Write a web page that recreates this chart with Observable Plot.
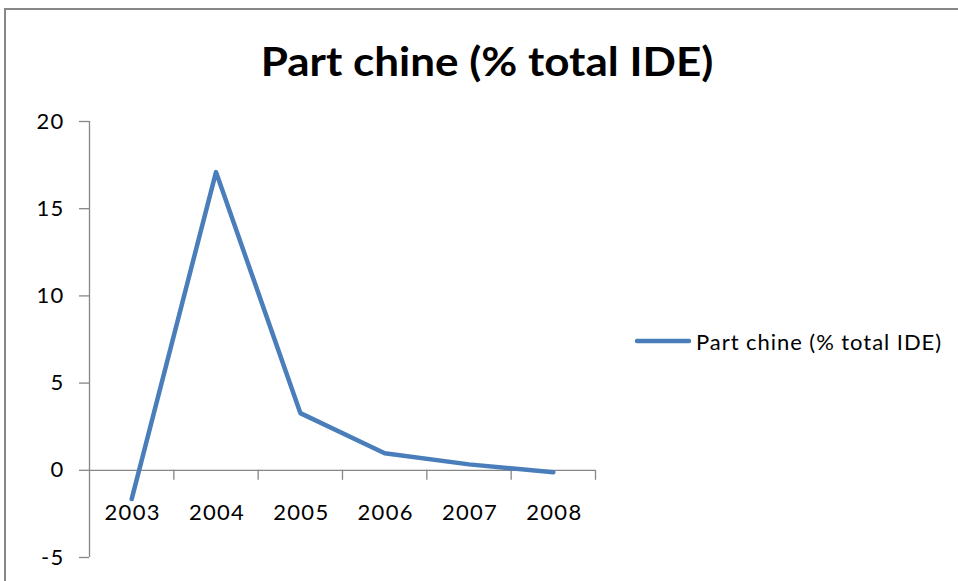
<!DOCTYPE html>
<html>
<head>
<meta charset="utf-8">
<script src="https://cdn.jsdelivr.net/npm/d3@7"></script>
<script src="https://cdn.jsdelivr.net/npm/@observablehq/plot@0.6"></script>
<style>
  html, body { margin: 0; padding: 0; background: #fff; }
  #wrap { position: relative; width: 958px; height: 581px; overflow: hidden; font-family: Lato, "Open Sans", sans-serif; }
  #frame { position: absolute; left: 4px; top: 8px; width: 1000px; height: 700px; border-top: 2px solid #878787; border-left: 2px solid #878787; }
  #chart { position: absolute; left: 0; top: 0; }
  #chart text { letter-spacing: 1.3px; }
  #title { position: absolute; left: 8px; width: 958px; top: 33px; text-align: center; font-weight: bold; font-size: 40px; color: #000; line-height: 56px; white-space: nowrap; transform: scaleX(1.1); transform-origin: 479px 50%; }
  #legend { position: absolute; left: 635px; top: 327px; height: 28px; display: flex; align-items: center; font-size: 22px; letter-spacing: 0.95px; color: #000; white-space: nowrap; }
  #legend svg { margin-right: 5px; }
</style>
</head>
<body>
<div id="wrap">
  <div id="frame"></div>
  <div id="chart"></div>
  <div id="title"></div>
  <div id="legend"></div>
</div>
<script>
const titleText = "Part chine (% total IDE)";
const seriesName = "Part chine (% total IDE)";
const years = [2003, 2004, 2005, 2006, 2007, 2008];
const values = [-1.65, 17.1, 3.28, 0.98, 0.34, -0.11];
const yTicks = [-5, 0, 5, 10, 15, 20];
const lineColor = "#4A7EBB";
const axisColor = "#868686";

const data = years.map((year, i) => ({year, value: values[i]}));
const bounds = years.map(y => y + 0.5);
const xDomain = [years[0] - 0.5, years[years.length - 1] + 0.5];

const chart = Plot.plot({
  width: 958,
  height: 581,
  marginLeft: 89,
  marginRight: 363,
  marginTop: 121,
  marginBottom: 24,
  style: {fontFamily: "Lato, 'Open Sans', sans-serif", background: "transparent"},
  x: {type: "linear", domain: xDomain, axis: null},
  y: {type: "linear", domain: [yTicks[0], yTicks[yTicks.length - 1]], axis: null},
  marks: [
    // vertical value axis line
    Plot.ruleX([xDomain[0]], {y1: yTicks[0], y2: yTicks[yTicks.length - 1], stroke: axisColor, strokeWidth: 1.3}),
    // value axis tick marks
    Plot.ruleY(yTicks, {y: d => d, x1: xDomain[0], x2: xDomain[0], insetLeft: -10, stroke: axisColor, strokeWidth: 1.3}),
    // value axis labels
    Plot.text(yTicks, {x: () => xDomain[0], y: d => d, text: d => String(d), textAnchor: "end", dx: -25, fontSize: 22, fill: "#000"}),
    // category axis line at zero
    Plot.ruleY([0], {stroke: axisColor, strokeWidth: 1.3}),
    // category tick marks
    Plot.ruleX(bounds, {x: d => d, y1: 0, y2: 0, insetBottom: -10, stroke: axisColor, strokeWidth: 1.3}),
    // category labels
    Plot.text(years, {x: d => d, y: () => 0, text: d => String(d), dy: 43, dx: 1, fontSize: 22, fill: "#000"}),
    // the series
    Plot.line(data, {x: "year", y: "value", stroke: lineColor, strokeWidth: 4.5, strokeLinejoin: "round", strokeLinecap: "round"})
  ]
});
document.getElementById("chart").appendChild(chart);

document.getElementById("title").textContent = titleText;
const legend = document.getElementById("legend");
legend.innerHTML = `<svg width="56" height="10"><line x1="2" x2="54" y1="5" y2="5" stroke="${lineColor}" stroke-width="4.5" stroke-linecap="round"/></svg><span></span>`;
legend.querySelector("span").textContent = seriesName;
</script>
</body>
</html>
